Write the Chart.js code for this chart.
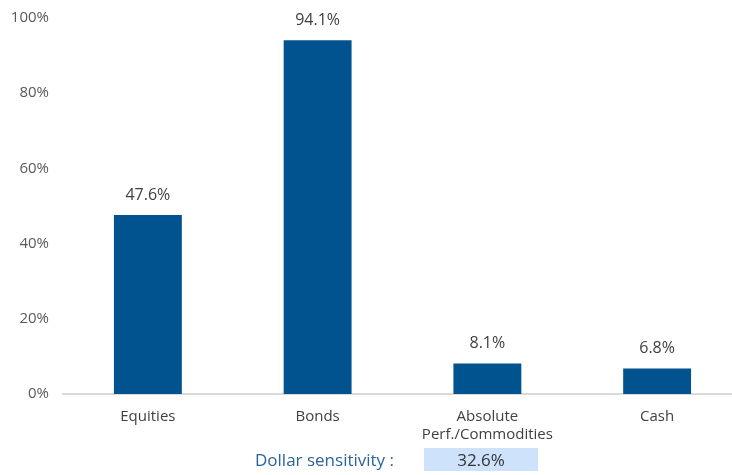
<!DOCTYPE html>
<html>
<head>
<meta charset="utf-8">
<script src="https://cdn.jsdelivr.net/npm/chart.js@4"></script>
<style>
  html, body { margin: 0; padding: 0; background: #fff; overflow: hidden; }
  body { width: 732px; height: 475px; position: relative; font-family: "Open Sans", sans-serif; }
  #wrap { position: absolute; left: 0; top: -5px; width: 742px; height: 455px; }
  #sens { position: absolute; left: 255px; top: 448px; height: 23px; display: flex; align-items: center; }
  #sens .lbl { color: #2a6499; font-size: 17px; width: 169px; }
  #sens .val { background: #cfe2fb; color: #333; font-size: 17px; width: 114px; height: 23px; line-height: 23px; text-align: center; }
</style>
</head>
<body>
<div id="wrap"><canvas id="chart"></canvas></div>
<div id="sens"><span class="lbl">Dollar sensitivity :</span><span class="val">32.6%</span></div>
<script>
// ── Data ─────────────────────────────────────────────────────────
const categories = ['Equities', 'Bonds', ['Absolute', 'Perf./Commodities'], 'Cash'];
const values = [47.6, 94.1, 8.1, 6.8];

// ── Value labels above bars ──────────────────────────────────────
const valueLabels = {
  id: 'valueLabels',
  afterDatasetsDraw(chart) {
    const ctx = chart.ctx;
    const meta = chart.getDatasetMeta(0);
    ctx.save();
    ctx.font = '16px "Open Sans", sans-serif';
    ctx.fillStyle = '#404040';
    ctx.textAlign = 'center';
    ctx.textBaseline = 'bottom';
    meta.data.forEach((bar, i) => {
      ctx.fillText(values[i].toFixed(1) + '%', bar.x, bar.y - 12);
    });
    ctx.restore();
  }
};

new Chart(document.getElementById('chart'), {
  type: 'bar',
  data: {
    labels: categories,
    datasets: [{
      data: values,
      backgroundColor: '#00538f',
      categoryPercentage: 1,
      barPercentage: 0.4
    }]
  },
  options: {
    responsive: true,
    maintainAspectRatio: false,
    animation: false,
    layout: { padding: { top: 0, left: 0, right: 0 } },
    plugins: { legend: { display: false }, tooltip: { enabled: false } },
    scales: {
      x: {
        grid: { display: false },
        border: { color: '#d9d9d9', width: 2 },
        ticks: { color: '#404040', font: { size: 15, family: '"Open Sans", sans-serif' }, padding: 6, maxRotation: 0 }
      },
      y: {
        min: 0, max: 100,
        grid: { display: false, drawTicks: false },
        border: { display: false },
        ticks: {
          stepSize: 20, color: '#595959', padding: 14,
          font: { size: 15, family: '"Open Sans", sans-serif' },
          callback: v => v + '%'
        },
        afterFit: s => { s.width = 63; }
      }
    }
  },
  plugins: [valueLabels]
});
</script>
</body>
</html>
